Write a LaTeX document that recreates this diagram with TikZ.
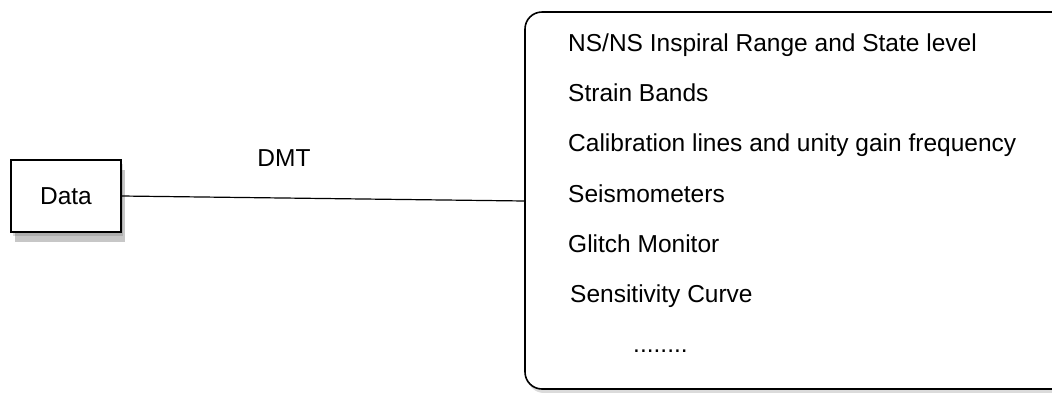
\documentclass[tikz,border=0pt]{standalone}
\usepackage{fontspec}
\setmainfont{Liberation Sans}
\usepackage{tikz}
\usetikzlibrary{positioning,calc,shadows}

\begin{document}
\begin{tikzpicture}[x=1pt,y=-1pt]
	\tikzset{
		box/.style={draw=black, line width=1.6pt, fill=white,
			drop shadow={shadow xshift=2pt, shadow yshift=-4pt, opacity=0.2, fill=black!70}},
		txt/.style={font=\fontsize{24.5}{28}\selectfont, inner sep=0pt},
		item/.style={txt, anchor=base west},
		e/.style={draw=black, line width=1.2pt}
	}
	\useasboundingbox (0,0) rectangle (1052,392);
	\clip (0,0) rectangle (1052,392);
	\node[draw=none, fill=black!55, opacity=0.4, minimum width=110pt, minimum height=72pt] (datashadow) at (70,206) {};
	\node[box, txt, minimum width=110pt, minimum height=72pt] (data) at (66,196) {Data};
	\draw[box, rounded corners=17pt] (525,12) rectangle (1075,389);
	\coordinate (mon) at (525,201);

	\node[item] (l1) at (568,51) {NS/NS Inspiral Range and State level};
	\node[item] (l2) at (568,101) {Strain Bands};
	\node[item] (l3) at (568,151) {Calibration lines and unity gain frequency};
	\node[item] (l4) at (568,202) {Seismometers};
	\node[item] (l5) at (568,252) {Glitch Monitor};
	\node[item] (l6) at (570,302) {Sensitivity Curve};
	\node[item] (l7) at (633,352) {........};

	\draw[e] (data.east) -- (mon);
	\node[txt] (dmt) at (284,158) {DMT};
\end{tikzpicture}
\end{document}
